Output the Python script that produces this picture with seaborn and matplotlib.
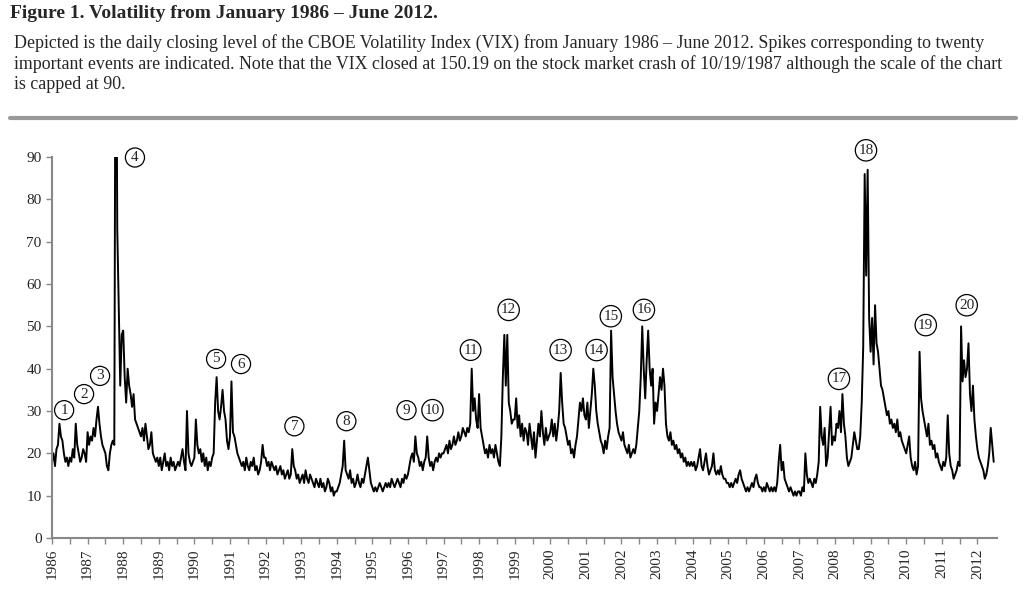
import numpy as np
import pandas as pd
import matplotlib
matplotlib.use("Agg")
import matplotlib.pyplot as plt
import seaborn as sns

# VIX close at half-month steps (24 per year)
vix_1986 = [18, 20, 17, 21, 22, 27, 24, 23, 20, 18, 19, 17, 19, 18, 21, 19, 27, 22, 20, 18, 19, 21, 20, 18]
vix_1987 = [25, 22, 24, 23, 26, 24, 28, 31, 27, 24, 22, 21, 20, 17, 16, 20, 22, 23, 22, 150.19, 73, 55, 36, 48]
vix_1988 = [49, 38, 32, 40, 36, 34, 31, 34, 28, 27, 26, 25, 24, 26, 23, 27, 24, 21, 22, 25, 20, 19, 18, 19]
vix_1989 = [17, 19, 16, 18, 20, 17, 18, 16, 19, 17, 18, 16, 17, 18, 17, 19, 21, 18, 16, 30, 20, 18, 17, 18]
vix_1990 = [19, 28, 22, 20, 21, 18, 20, 17, 19, 16, 18, 17, 19, 20, 32, 38, 30, 28, 31, 35, 30, 28, 23, 21]
vix_1991 = [24, 37, 25, 24, 22, 20, 19, 18, 17, 18, 16, 19, 17, 16, 18, 17, 19, 16, 17, 15, 16, 18, 22, 19]
vix_1992 = [19, 17, 18, 16, 18, 17, 16, 17, 15, 16, 17, 15, 16, 14, 15, 16, 14, 15, 21, 17, 16, 14, 15, 13]
vix_1993 = [14, 15, 13, 16, 14, 13, 15, 14, 13, 12, 14, 13, 12, 14, 12, 13, 11, 12, 14, 13, 11, 12, 10, 11]
vix_1994 = [11, 12, 13, 15, 17, 23, 16, 15, 14, 16, 13, 14, 12, 13, 15, 13, 12, 14, 13, 15, 17, 19, 16, 13]
vix_1995 = [12, 11, 12, 11, 12, 13, 12, 11, 12, 13, 12, 13, 12, 14, 13, 12, 13, 14, 13, 12, 14, 13, 15, 14]
vix_1996 = [15, 17, 19, 20, 18, 24, 20, 19, 17, 18, 16, 18, 19, 24, 19, 17, 18, 16, 18, 19, 18, 20, 19, 20]
vix_1997 = [20, 21, 22, 20, 23, 21, 22, 24, 22, 23, 25, 23, 24, 26, 25, 24, 26, 25, 27, 40, 30, 33, 28, 26]
vix_1998 = [34, 26, 24, 22, 20, 21, 19, 22, 20, 21, 19, 22, 20, 18, 17, 24, 38, 48, 36, 48, 32, 30, 27, 28]
vix_1999 = [28, 33, 26, 29, 24, 27, 23, 26, 25, 22, 27, 24, 21, 25, 19, 23, 27, 24, 30, 25, 22, 26, 23, 24]
vix_2000 = [25, 28, 24, 27, 23, 26, 30, 39, 32, 27, 26, 24, 22, 23, 20, 21, 19, 22, 24, 28, 32, 30, 33, 29]
vix_2001 = [28, 32, 26, 30, 34, 40, 36, 30, 27, 25, 23, 22, 20, 23, 21, 24, 26, 49, 38, 34, 30, 27, 25, 24]
vix_2002 = [23, 25, 22, 21, 20, 22, 19, 20, 21, 20, 22, 26, 30, 38, 50, 40, 33, 42, 49, 40, 36, 40, 27, 32]
vix_2003 = [30, 34, 38, 35, 40, 36, 27, 24, 23, 25, 22, 23, 21, 22, 20, 21, 19, 20, 18, 19, 17, 18, 17, 18]
vix_2004 = [17, 18, 16, 17, 19, 21, 17, 16, 18, 20, 17, 15, 16, 17, 20, 16, 15, 16, 15, 17, 15, 14, 14, 13]
vix_2005 = [13, 12, 13, 12, 13, 14, 13, 15, 16, 14, 13, 12, 11, 12, 11, 12, 13, 12, 14, 15, 13, 12, 12, 11]
vix_2006 = [12, 11, 13, 12, 11, 12, 11, 12, 11, 13, 18, 22, 16, 18, 14, 13, 12, 11, 12, 11, 10, 11, 10, 11]
vix_2007 = [11, 10, 12, 11, 20, 15, 13, 14, 13, 12, 14, 13, 15, 18, 31, 24, 22, 26, 17, 19, 25, 31, 22, 24]
vix_2008 = [23, 27, 26, 30, 25, 34, 27, 24, 19, 17, 18, 19, 22, 25, 23, 21, 21, 24, 32, 45, 86, 62, 87, 52]
vix_2009 = [44, 52, 41, 55, 46, 44, 40, 36, 35, 33, 31, 29, 30, 27, 28, 26, 27, 25, 28, 24, 25, 23, 22, 21]
vix_2010 = [20, 22, 24, 19, 17, 16, 18, 15, 17, 44, 33, 30, 28, 26, 24, 27, 22, 23, 21, 22, 19, 20, 18, 17]
vix_2011 = [16, 18, 17, 19, 29, 20, 17, 16, 14, 15, 16, 18, 17, 50, 37, 42, 38, 40, 46, 34, 30, 36, 28, 24]
vix_2012 = [21, 19, 18, 17, 16, 14, 15, 17, 20, 26, 22, 18]

years = list(range(1986, 2013))
yearly = [vix_1986, vix_1987, vix_1988, vix_1989, vix_1990, vix_1991, vix_1992,
          vix_1993, vix_1994, vix_1995, vix_1996, vix_1997, vix_1998, vix_1999,
          vix_2000, vix_2001, vix_2002, vix_2003, vix_2004, vix_2005, vix_2006,
          vix_2007, vix_2008, vix_2009, vix_2010, vix_2011, vix_2012]

# event numbers and where their circled labels sit (year, vix level)
event_ids = list(range(1, 21))
event_year = [1986.34, 1986.90, 1987.35, 1988.33, 1990.61, 1991.31, 1992.81, 1994.27,
              1995.96, 1996.69, 1997.76, 1998.83, 2000.29, 2001.30, 2001.70, 2002.63,
              2008.11, 2008.87, 2010.55, 2011.70]
event_level = [30.2, 34.0, 38.3, 89.9, 42.3, 41.1, 26.4, 27.6, 30.2, 30.2, 44.4, 53.9,
               44.4, 44.4, 52.4, 53.9, 37.6, 91.6, 50.3, 55.0]

dates = []
values = []
for yr, vals in zip(years, yearly):
    for i, v in enumerate(vals):
        dates.append(yr + i / 24)
        values.append(v)
df = pd.DataFrame({"date": dates, "vix": values})

sns.set_theme(style="white")
plt.rcParams["font.family"] = ["Liberation Serif", "DejaVu Serif"]

fig = plt.figure(figsize=(10.24, 5.95), dpi=100)
ax = fig.add_axes([0.0508, 0.0958, 0.9228, 0.6402])

sns.lineplot(data=df, x="date", y="vix", ax=ax, color="black", linewidth=1.4, estimator=None)

ax.set_xlim(1986, 2012.55)
ax.set_ylim(0, 90)
ax.set_yticks(range(0, 91, 10))
ax.set_xticks(years)
ax.set_xticks([y + 0.5 for y in years[:-1]], minor=True)
ax.set_xticklabels([str(y) for y in years], rotation=90, fontsize=11)
ax.tick_params(axis="y", labelsize=11, length=4, width=1, color="#888888", direction="out", left=True)
ax.tick_params(axis="x", which="both", length=4, width=1, color="#888888", direction="out", bottom=True)
ax.set_xlabel("")
ax.set_ylabel("")
for side in ["top", "right"]:
    ax.spines[side].set_visible(False)
for side in ["left", "bottom"]:
    ax.spines[side].set_color("#888888")
    ax.spines[side].set_linewidth(1.5)

for n, ex, ey in zip(event_ids, event_year, event_level):
    ax.text(ex, ey, str(n), ha="center", va="center", fontsize=11, clip_on=False,
            bbox=dict(boxstyle="circle,pad=0.2", fc="white", ec="black", lw=0.9))

fig.text(0.01, 0.992, "Figure 1. Volatility from January 1986 \u2013 June 2012.",
         fontsize=14, fontweight="bold", va="top", ha="left")
caption = ("Depicted is the daily closing level of the CBOE Volatility Index (VIX) from January 1986 \u2013 June 2012. Spikes corresponding to twenty\n"
           "important events are indicated. Note that the VIX closed at 150.19 on the stock market crash of 10/19/1987 although the scale of the chart\n"
           "is capped at 90.")
fig.text(0.014, 0.943, caption, fontsize=12.9, va="top", ha="left", linespacing=1.22)

fig.add_artist(plt.Line2D([0.01, 0.992], [0.802, 0.802], color="#999999", linewidth=3,
                          transform=fig.transFigure))

fig.savefig("out.png", dpi=100)
